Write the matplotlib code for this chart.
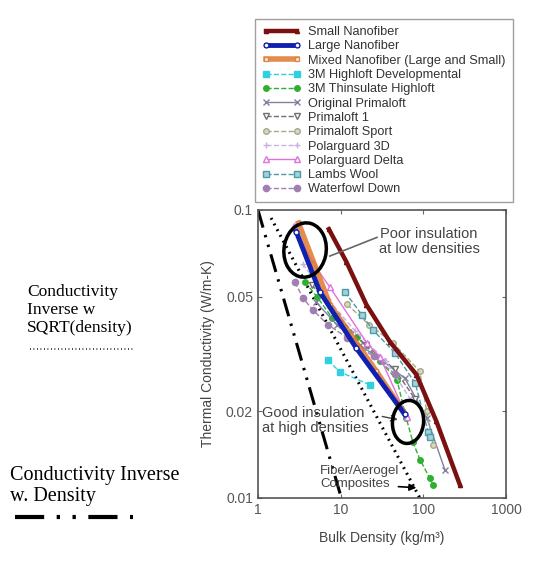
import matplotlib
matplotlib.use("Agg")
import matplotlib.pyplot as plt
from matplotlib.patches import Ellipse

plt.rcParams['font.family'] = ['Liberation Sans', 'DejaVu Sans']

# bulk density (kg/m3) vs thermal conductivity (W/m-K)
small_nano_x = [7.2, 11.7, 20.5, 39.3, 82.7, 144, 277]
small_nano_y = [0.0858, 0.0662, 0.0469, 0.0349, 0.0268, 0.01845, 0.0111]

large_nano_x = [2.9, 5.6, 15.5, 59.7]
large_nano_y = [0.0841, 0.052, 0.0331, 0.0195]

mixed_nano_x = [3.1, 7.4, 27.1, 57]
mixed_nano_y = [0.090, 0.0469, 0.0275, 0.020]

highloft_dev_x = [7.0, 9.8, 22.6]
highloft_dev_y = [0.0301, 0.0274, 0.0247]

thinsulate_x = [3.7, 5.2, 7.9, 15.8, 30, 48, 62, 75, 91, 120, 131]
thinsulate_y = [0.0562, 0.0499, 0.0422, 0.0362, 0.030, 0.0257, 0.019, 0.0156, 0.0136, 0.0117, 0.0111]

orig_primaloft_x = [5, 9, 17, 32, 60, 110, 183]
orig_primaloft_y = [0.048, 0.040, 0.034, 0.030, 0.026, 0.019, 0.0125]

primaloft1_x = [4.5, 9, 20, 45, 80]
primaloft1_y = [0.055, 0.043, 0.034, 0.028, 0.022]

primaloft_sport_x = [12, 22, 43.4, 90.6, 110, 131]
primaloft_sport_y = [0.047, 0.040, 0.0345, 0.0275, 0.020, 0.0153]

polar3d_x = [3.5, 7, 15, 35, 70]
polar3d_y = [0.065, 0.049, 0.038, 0.030, 0.022]

polardelta_x = [2.7, 4.6, 7.4, 20.8, 29.9, 63.4]
polardelta_y = [0.088, 0.0655, 0.054, 0.0345, 0.0309, 0.0191]

lambs_x = [11.3, 18.1, 24.6, 45, 80, 114, 120]
lambs_y = [0.0519, 0.0432, 0.0383, 0.032, 0.025, 0.017, 0.0163]

down_x = [2.8, 3.5, 4.6, 7, 12, 25, 45]
down_y = [0.0562, 0.0495, 0.045, 0.040, 0.036, 0.031, 0.027]

# reference lines
inv_rho_x = [1, 10.2]
inv_rho_y = [0.1, 0.01]
inv_sqrt_x = [1.44, 90.8]
inv_sqrt_y = [0.0938, 0.01]

x_ticks = [1, 10, 100, 1000]
y_ticks = [0.01, 0.02, 0.05, 0.1]
y_tick_labels = ["0.01", "0.02", "0.05", "0.1"]

GRAY = "#444444"

fig = plt.figure(figsize=(5.5, 5.63), dpi=100)
ax = fig.add_axes([0.469, 0.1155, 0.451, 0.5115])
ax.set_xscale("log")
ax.set_yscale("log")

# guide lines
ax.plot(inv_rho_x, inv_rho_y, color="black", lw=2.2, dashes=(6, 2.5, 0.8, 2.5, 0.8, 2.5))
ax.plot(inv_sqrt_x, inv_sqrt_y, color="black", lw=2.2, linestyle=(0, (0.6, 1.5)))

handles = []
def series(x, y, label, color, marker, ls="-", lw=1.0, ms=3.5, mfc=None, alpha=1.0, z=2):
	h, = ax.plot(x, y, color=color, marker=marker, linestyle=ls, lw=lw, ms=ms,
				 mfc=mfc if mfc else color, mec=color, alpha=alpha, zorder=z, label=label)
	handles.append(h)

series(small_nano_x, small_nano_y, "Small Nanofiber", "#7a1010", "^", lw=3.2, ms=3, z=5)
series(large_nano_x, large_nano_y, "Large Nanofiber", "#1020b0", "o", lw=3.5, ms=3.5, mfc="white", z=5)
series(mixed_nano_x, mixed_nano_y, "Mixed Nanofiber (Large and Small)", "#e07830", "s", lw=4, ms=3.5, mfc="white", alpha=0.85, z=4)
series(highloft_dev_x, highloft_dev_y, "3M Highloft Developmental", "#30d0e0", "s", ls="--", ms=4)
series(thinsulate_x, thinsulate_y, "3M Thinsulate Highloft", "#30b030", "o", ls="--", ms=4)
series(orig_primaloft_x, orig_primaloft_y, "Original Primaloft", "#8080a0", "x", ms=4)
series(primaloft1_x, primaloft1_y, "Primaloft 1", "#707070", "v", ls="--", ms=4, mfc="white")
series(primaloft_sport_x, primaloft_sport_y, "Primaloft Sport", "#a8a888", "o", ls="--", ms=4, mfc="#d8d8c8")
series(polar3d_x, polar3d_y, "Polarguard 3D", "#c8b0e0", "+", ls="--", ms=4)
series(polardelta_x, polardelta_y, "Polarguard Delta", "#e070e0", "^", ms=4, mfc="white")
series(lambs_x, lambs_y, "Lambs Wool", "#4a9aa8", "s", ls="--", ms=4, mfc="#a8d0d8")
series(down_x, down_y, "Waterfowl Down", "#a080b0", "o", ls="--", ms=4.5)

ax.set_xlim(1, 1000)
ax.set_ylim(0.01, 0.1)
ax.set_xticks(x_ticks)
ax.set_xticklabels([str(v) for v in x_ticks])
ax.set_yticks(y_ticks)
ax.set_yticklabels(y_tick_labels)
ax.minorticks_off()
ax.tick_params(direction="in", top=True, right=True, length=3, colors="#666666", labelsize=10, labelcolor="#555555")
for s in ax.spines.values():
	s.set_color("#555555")
	s.set_linewidth(1.2)

ax.set_xlabel("Bulk Density (kg/m³)", color=GRAY, fontsize=10, labelpad=10)
ax.set_ylabel("Thermal Conductivity (W/m-K)", color=GRAY, fontsize=10, labelpad=8)

# annotations
ax.add_patch(Ellipse((0.19, 0.861), 0.17, 0.19, angle=-15, transform=ax.transAxes,
					 fill=False, ec="black", lw=2.5, zorder=6))
ax.add_patch(Ellipse((0.605, 0.264), 0.125, 0.15, angle=-10, transform=ax.transAxes,
					 fill=False, ec="black", lw=2.5, zorder=6))
ax.text(0.69, 0.89, "Poor insulation\nat low densities", transform=ax.transAxes,
		ha="center", va="center", fontsize=10.5, color=GRAY, linespacing=1.1, zorder=7)
ax.plot([0.48, 0.29], [0.905, 0.84], transform=ax.transAxes, color="#666666", lw=1.2, zorder=6)
ax.text(0.015, 0.27, "Good insulation\nat high densities", transform=ax.transAxes,
		ha="left", va="center", fontsize=10.5, color=GRAY, linespacing=1.1, zorder=7)
ax.annotate("", xy=(0.575, 0.27), xytext=(0.49, 0.285), xycoords="axes fraction",
			arrowprops=dict(arrowstyle="->", color=GRAY, lw=1))
ax.text(0.25, 0.07, "Fiber/Aerogel\nComposites", transform=ax.transAxes,
		ha="left", va="center", fontsize=9.5, color=GRAY, linespacing=1.1, zorder=7)
ax.annotate("", xy=(0.65, 0.035), xytext=(0.555, 0.04), xycoords="axes fraction",
			arrowprops=dict(arrowstyle="-|>", color="black", lw=1.2))

fig.legend(handles=handles, loc="upper left", bbox_to_anchor=(0.4636, 0.966),
		   borderaxespad=0, fontsize=9.2, labelspacing=0.18, handlelength=3, handletextpad=0.6,
		   borderpad=0.55, frameon=True, fancybox=False, edgecolor="#888888",
		   labelcolor="#333333", numpoints=2)

# left hand notes
fig.text(27 / 550, 1 - 310 / 563, "Conductivity\nInverse w\nSQRT(density)", family="Liberation Serif",
		 fontsize=12.5, va="center", ha="left", linespacing=1.15)
fig.add_artist(plt.Line2D([30 / 550, 135 / 550], [1 - 349 / 563] * 2, color="black", lw=1.2,
						  linestyle=(0, (0.5, 1.6))))
fig.text(10 / 550, 1 - 486 / 563, "Conductivity Inverse\nw. Density", family="Liberation Serif",
		 fontsize=14.5, va="center", ha="left", linespacing=1.15)
fig.add_artist(plt.Line2D([15 / 550, 133 / 550], [1 - 517 / 563] * 2, color="black", lw=3,
						  dashes=(7, 3, 0.8, 3, 0.8, 3)))

fig.savefig("out.png", dpi=100)
